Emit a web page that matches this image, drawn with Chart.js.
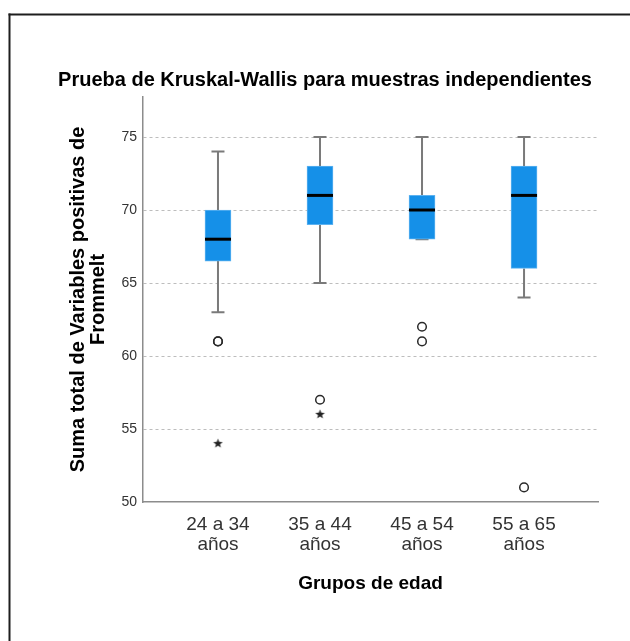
<!DOCTYPE html>
<html>
<head>
<meta charset="utf-8">
<script src="https://cdn.jsdelivr.net/npm/chart.js@4.4.1/dist/chart.umd.min.js"></script>
<style>
  html, body { margin: 0; padding: 0; background: #fff; }
  canvas { display: block; }
</style>
</head>
<body>
<canvas id="chart" width="630" height="641"></canvas>
<script>
// Age groups (x-axis categories)
const groups = ['24 a 34', '35 a 44', '45 a 54', '55 a 65'];
const groupSubLabel = 'años';

// Box-plot summary per group
const whiskerLow  = [63, 65, 68, 64];
const q1          = [66.5, 69, 68, 66];
const median      = [68, 71, 70, 71];
const q3          = [70, 73, 71, 73];
const whiskerHigh = [74, 75, 75, 75];

// Outliers (circles) and extreme values (stars), per group
const outliers = [[61, 61], [57], [62, 61], [51]];
const extremes = [[54], [56], [], []];

// Y-axis tick labels
const yTicks = [50, 55, 60, 65, 70, 75];

const boxData = groups.map((g, i) => ({ x: i + 1, y: [q1[i], q3[i]] }));
const outlierData = [];
outliers.forEach((vals, i) => vals.forEach(v => outlierData.push({ x: i + 1, y: v })));
const extremeData = [];
extremes.forEach((vals, i) => vals.forEach(v => extremeData.push({ x: i + 1, y: v })));

// Small filled five-pointed star used as the extreme-value marker
function makeStar(size, color) {
  const c = document.createElement('canvas');
  c.width = size; c.height = size;
  const g = c.getContext('2d');
  const cx = size / 2, cy = size / 2, R = size / 2 - 0.5, r = R * 0.42;
  g.beginPath();
  for (let k = 0; k < 10; k++) {
    const rad = k % 2 === 0 ? R : r;
    const a = -Math.PI / 2 + k * Math.PI / 5;
    const px = cx + rad * Math.cos(a), py = cy + rad * Math.sin(a);
    if (k === 0) g.moveTo(px, py); else g.lineTo(px, py);
  }
  g.closePath();
  g.fillStyle = color;
  g.fill();
  return c;
}
const starImg = makeStar(11, '#222');

// Page frame (top and left rules) and white background
const framePlugin = {
  id: 'frame',
  beforeDraw(chart) {
    const ctx = chart.ctx;
    ctx.save();
    ctx.fillStyle = '#fff';
    ctx.fillRect(0, 0, chart.width, chart.height);
    ctx.fillStyle = '#1e1e1e';
    ctx.fillRect(8.5, 13.5, chart.width, 2);
    ctx.fillRect(8.5, 13.5, 2, chart.height);
    ctx.restore();
  }
};

// Whiskers with caps (behind boxes) and median lines (over boxes)
const boxPlotPlugin = {
  id: 'boxplotParts',
  beforeDatasetsDraw(chart) {
    const { ctx, scales: { x, y } } = chart;
    ctx.save();
    ctx.strokeStyle = '#7a7a7a';
    ctx.lineWidth = 2;
    groups.forEach((g, i) => {
      const px = x.getPixelForValue(i + 1);
      const capHalf = 6.5;
      const yHi = y.getPixelForValue(whiskerHigh[i]);
      const yQ3 = y.getPixelForValue(q3[i]);
      const yLo = y.getPixelForValue(whiskerLow[i]);
      const yQ1 = y.getPixelForValue(q1[i]);
      ctx.beginPath();
      ctx.moveTo(px, yQ3); ctx.lineTo(px, yHi);
      ctx.moveTo(px - capHalf, yHi); ctx.lineTo(px + capHalf, yHi);
      ctx.moveTo(px, yQ1); ctx.lineTo(px, yLo);
      ctx.moveTo(px - capHalf, yLo); ctx.lineTo(px + capHalf, yLo);
      ctx.stroke();
    });
    ctx.restore();
  },
  afterDatasetDraw(chart, args) {
    if (args.index !== 0) return;
    const { ctx, scales: { x, y } } = chart;
    ctx.save();
    ctx.strokeStyle = '#000';
    ctx.lineWidth = 3;
    groups.forEach((g, i) => {
      const px = x.getPixelForValue(i + 1);
      const py = y.getPixelForValue(median[i]);
      ctx.beginPath();
      ctx.moveTo(px - 13, py); ctx.lineTo(px + 13, py);
      ctx.stroke();
    });
    ctx.restore();
  }
};

new Chart(document.getElementById('chart'), {
  type: 'bar',
  data: {
    datasets: [
      {
        type: 'bar',
        data: boxData,
        backgroundColor: '#1590e8',
        borderColor: '#5db2f0',
        borderWidth: 1,
        borderSkipped: false,
        barThickness: 26,
        order: 2
      },
      {
        type: 'scatter',
        data: outlierData,
        pointStyle: 'circle',
        pointRadius: 4.3,
        pointBorderWidth: 1.5,
        pointBorderColor: '#2a2a2a',
        pointBackgroundColor: 'rgba(255,255,255,0)',
        order: 1
      },
      {
        type: 'scatter',
        data: extremeData,
        pointStyle: starImg,
        pointRadius: 5,
        order: 1
      }
    ]
  },
  options: {
    responsive: false,
    animation: false,
    events: [],
    layout: { padding: { left: 52, right: 32, top: 0, bottom: 0 } },
    plugins: {
      legend: { display: false },
      tooltip: { enabled: false },
      title: {
        display: true,
        text: 'Prueba de Kruskal-Wallis para muestras independientes',
        color: '#000',
        font: { family: 'Arial, "Liberation Sans", sans-serif', size: 20, weight: 'bold', lineHeight: 1.2 },
        padding: { top: 68, bottom: 5 }
      }
    },
    scales: {
      x: {
        type: 'linear',
        offset: false,
        min: 0.265,
        max: 4.725,
        afterBuildTicks: s => { s.ticks = groups.map((g, i) => ({ value: i + 1 })); },
        afterFit: s => { s.height = 139; },
        grid: { display: false, offset: false },
        border: { display: true, color: '#8c8c8c', width: 1.5 },
        ticks: {
          autoSkip: false,
          maxRotation: 0,
          padding: 5,
          color: '#333',
          font: { family: 'Arial, "Liberation Sans", sans-serif', size: 19, lineHeight: 1.05 },
          callback: v => [groups[v - 1], groupSubLabel]
        },
        title: {
          display: true,
          text: 'Grupos de edad',
          color: '#000',
          font: { family: 'Arial, "Liberation Sans", sans-serif', size: 19, weight: 'bold', lineHeight: 1.2 },
          padding: { top: 0, bottom: 46 }
        }
      },
      y: {
        min: 50,
        max: 77.74,
        afterBuildTicks: s => { s.ticks = yTicks.map(v => ({ value: v })); },
        afterFit: s => { s.width = 91; },
        grid: {
          drawTicks: false,
          lineWidth: 1,
          color: c => (c.tick && c.tick.value === 50) ? 'rgba(0,0,0,0)' : '#bdbdbd'
        },
        border: { display: true, color: '#8c8c8c', width: 1.5, dash: [3, 3] },
        ticks: {
          padding: 6,
          color: '#333',
          font: { family: 'Arial, "Liberation Sans", sans-serif', size: 14 }
        },
        title: {
          display: true,
          text: ['Suma total de Variables positivas de', 'Frommelt'],
          color: '#000',
          font: { family: 'Arial, "Liberation Sans", sans-serif', size: 20, weight: 'bold', lineHeight: 1.0 },
          padding: { top: 16, bottom: 0 }
        }
      }
    }
  },
  plugins: [framePlugin, boxPlotPlugin]
});
</script>
</body>
</html>
